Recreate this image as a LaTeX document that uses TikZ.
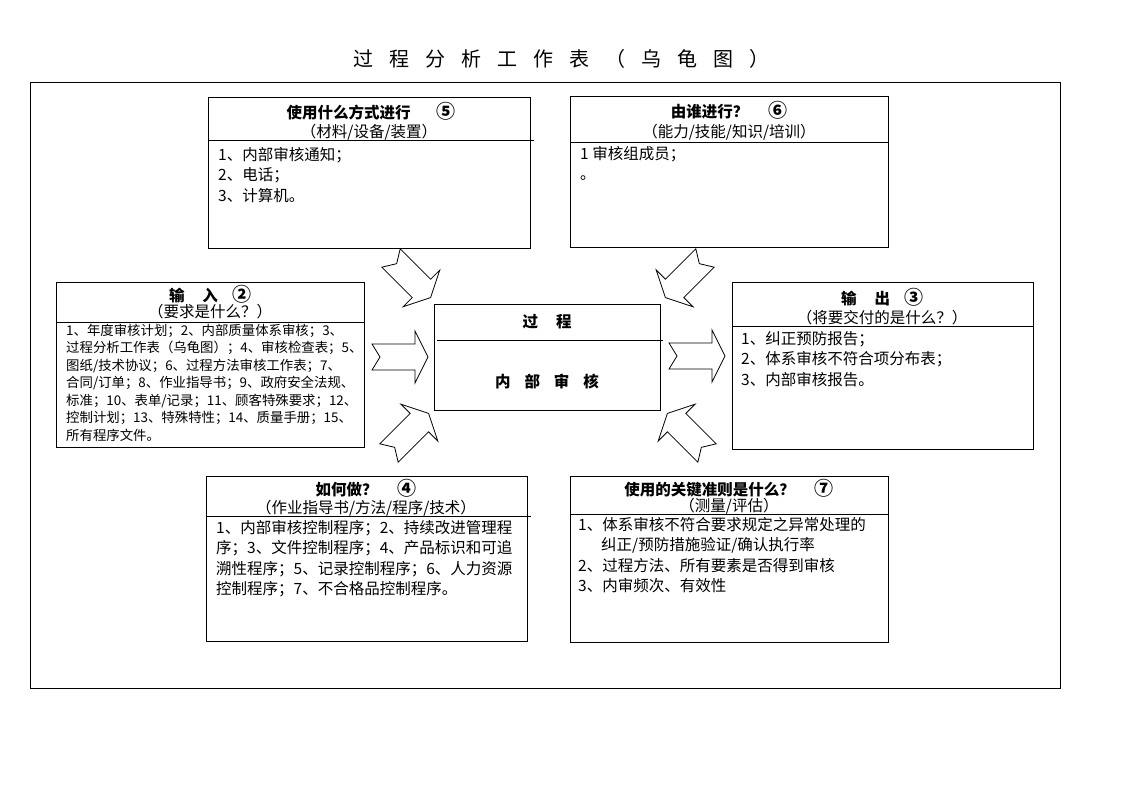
\documentclass[tikz,border=0pt]{standalone}
\usepackage{fontspec}
\setmainfont{Noto Sans CJK SC}
\usetikzlibrary{calc}

\newcommand\bodyfont{\fontsize{15.5}{20.5}\selectfont}
\newcommand\smallbody{\fontsize{13.4}{17.5}\selectfont}
\newcommand\headfont{\fontsize{15.5}{18}\selectfont\bfseries}
\newcommand\tgap{\hspace{16pt}}
\newcommand\cnum[1]{{\fontsize{19}{18}\selectfont #1}}

\tikzset{
  box/.style={draw, line width=1pt, anchor=north west, inner sep=0pt},
  headtext/.style={anchor=base, inner sep=0pt, font=\headfont},
  subtext/.style={anchor=base, inner sep=0pt, font=\bodyfont},
  % lists are placed by the baseline of their last line
  listtext/.style={anchor=base west, inner sep=0pt, align=left, font=\bodyfont},
  fatarrow/.pic={%
    \draw[line width=0.8pt, fill=white] (0,-13) -- (43,-13) -- (43,-26) -- (56,0)
      -- (43,26) -- (43,13) -- (0,13) -- (8,0) -- cycle;%
  }
}

\begin{document}
\begin{tikzpicture}[x=1pt,y=-1pt]%
  \useasboundingbox (0,0) rectangle (1122,793);%
  % title and frame
  \node[anchor=base, inner sep=0pt, font=\fontsize{20}{20}\selectfont] (title) at (561,66)
    {过\tgap 程\tgap 分\tgap 析\tgap 工\tgap 作\tgap 表\tgap （\tgap 乌\tgap 龟\tgap 图\tgap ）};%
  \draw[line width=1pt] (30,82) rectangle (1060,688);%

  % the boxes
  \node[box, minimum width=322pt, minimum height=151pt] (howbox) at (208,97) {};%
  \node[box, minimum width=318pt, minimum height=151pt] (whobox) at (570,96) {};%
  \node[box, minimum width=308pt, minimum height=165pt] (inbox) at (56,282) {};%
  \node[box, minimum width=301pt, minimum height=167pt] (outbox) at (732,282) {};%
  \node[box, minimum width=226pt, minimum height=106pt] (procbox) at (434,304) {};%
  \node[box, minimum width=321pt, minimum height=165pt] (dobox) at (206,476) {};%
  \node[box, minimum width=318pt, minimum height=166pt] (critbox) at (570,476) {};%

  % header rules
  \draw[line width=1pt] ($(howbox.north west)+(0,43)$) -- ($(howbox.north east)+(3,43)$);%
  \draw[line width=1pt] ($(whobox.north west)+(0,46)$) -- ($(whobox.north east)+(0,46)$);%
  \draw[line width=1pt] ($(inbox.north west)+(0,40)$) -- ($(inbox.north east)+(0,40)$);%
  \draw[line width=1pt] ($(outbox.north west)+(0,44)$) -- ($(outbox.north east)+(0,44)$);%
  \draw[line width=1pt] ($(procbox.north west)+(3,36)$) -- ($(procbox.north east)+(2,36)$);%
  \draw[line width=1pt] ($(dobox.north west)+(0,40)$) -- ($(dobox.north east)+(3,40)$);%
  \draw[line width=1pt] ($(critbox.north west)+(0,38)$) -- ($(critbox.north east)+(0,38)$);%

  % top left
  \node[headtext] (howhead) at (371,118) {使用什么方式进行\hspace{26pt}\cnum{⑤}};%
  \node[subtext] (howsub) at (369,137) {（材料/设备/装置）};%
  \node[listtext] (howlist) at (218,201) {1、内部审核通知；\\2、电话；\\3、计算机。};%

  % top right
  \node[headtext] (whohead) at (729,117) {由谁进行？\hspace{20pt}\cnum{⑥}};%
  \node[subtext] (whosub) at (729,137) {（能力/技能/知识/培训）};%
  \node[listtext] (wholist) at (580,179.5) {1 审核组成员；\\。};%

  % input
  \node[headtext] (inhead) at (210,301) {输\hspace{18pt}入\hspace{14pt}\cnum{②}};%
  \node[subtext] (insub) at (210,317) {（要求是什么？）};%
  \node[listtext, font=\smallbody] (inlist) at (66,440)
    {1、年度审核计划；2、内部质量体系审核；3、\\过程分析工作表（乌龟图）；4、审核检查表；5、\\图纸/技术协议；6、过程方法审核工作表；7、\\合同/订单；8、作业指导书；9、政府安全法规、\\标准；10、表单/记录；11、顾客特殊要求；12、\\控制计划；13、特殊特性；14、质量手册；15、\\所有程序文件。};%

  % output
  \node[headtext] (outhead) at (882,304) {输\hspace{18pt}出\hspace{14pt}\cnum{③}};%
  \node[subtext] (outsub) at (882,323) {（将要交付的是什么？）};%
  \node[listtext] (outlist) at (741,385) {1、纠正预防报告；\\2、体系审核不符合项分布表；\\3、内部审核报告。};%

  % process
  \node[headtext] (prochead) at (547,327) {过\hspace{18pt}程};%
  \node[headtext] (proctext) at (547,387) {内\hspace{14pt}部\hspace{14pt}审\hspace{14pt}核};%

  % bottom left
  \node[headtext] (dohead) at (366,495) {如何做？\hspace{20pt}\cnum{④}};%
  \node[subtext] (dosub) at (366,513) {（作业指导书/方法/程序/技术）};%
  \node[listtext] (dolist) at (216,594.5)
    {1、内部审核控制程序；2、持续改进管理程\\序；3、文件控制程序；4、产品标识和可追\\溯性程序；5、记录控制程序；6、人力资源\\控制程序；7、不合格品控制程序。};%

  % bottom right
  \node[headtext] (crithead) at (729,495) {使用的关键准则是什么？\hspace{20pt}\cnum{⑦}};%
  \node[subtext] (critsub) at (729,511) {（测量/评估）};%
  \node[listtext] (critlist) at (578,591.5)
    {1、体系审核不符合要求规定之异常处理的\\\hspace{23pt}纠正/预防措施验证/确认执行率\\2、过程方法、所有要素是否得到审核\\3、内审频次、有效性};%

  % block arrows towards the process
  \pic[rotate=-45] at (391,258) {fatarrow};%
  \pic[rotate=-135] at (705,258) {fatarrow};%
  \pic at (372,357) {fatarrow};%
  \pic at (669,356) {fatarrow};%
  \pic[rotate=45] at (389,453) {fatarrow};%
  \pic[rotate=135] at (707,453) {fatarrow};%
\end{tikzpicture}
\end{document}
